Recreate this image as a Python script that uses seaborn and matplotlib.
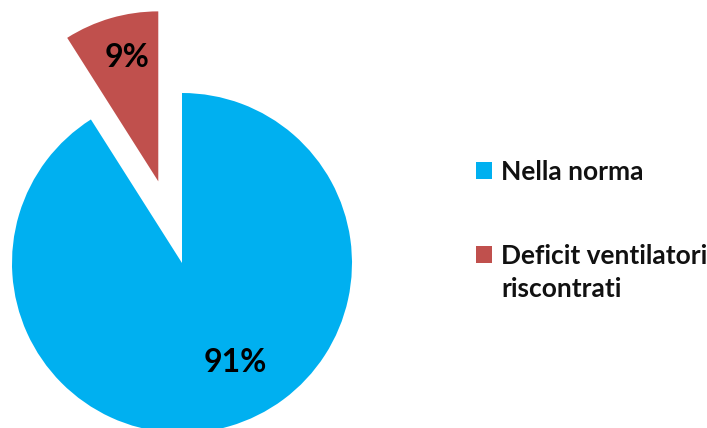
import matplotlib
matplotlib.use("Agg")
import matplotlib.pyplot as plt
import seaborn as sns
from matplotlib.patches import Rectangle
from matplotlib.legend_handler import HandlerPatch

sns.set_theme(style="white")
plt.rcParams['font.family'] = ['Lato', 'DejaVu Sans']

categories = ["Nella norma", "Deficit ventilatori\nriscontrati"]
values = [91, 9]
colors = ["#00B0F0", "#C0504D"]
explode = [0, 0.5]
pct_labels = [f"{v}%" for v in values]

fig = plt.figure(figsize=(7.07, 4.28), dpi=100)
ax = fig.add_axes([0, 0, 1, 1])

R = 170
cx, cy = 182, 165
wedges, _ = ax.pie(values, colors=colors, startangle=90, counterclock=False,
                   explode=[e * R for e in explode], radius=R, center=(cx, cy),
                   wedgeprops=dict(linewidth=0), frame=True)
ax.set_xlim(0, 707)
ax.set_ylim(0, 428)
ax.set_aspect('equal')
ax.axis('off')

# percentage labels
text_pos = [(235, 428 - 363), (127, 428 - 57)]
for (x, y), t in zip(text_pos, pct_labels):
    ax.text(x, y, t, ha='center', va='center', fontsize=23, fontweight='bold', color='black')

FS = 19
LS = 1.45


def make_patch(shift):
    def f(legend, orig_handle, xdescent, ydescent, width, height, fontsize):
        return Rectangle((-xdescent, -ydescent + shift), width, height)
    return f


handler_map = {
    wedges[0]: HandlerPatch(patch_func=make_patch(0)),
    wedges[1]: HandlerPatch(patch_func=make_patch(LS * FS / 2)),
}

leg = ax.legend(wedges, categories, loc='upper left', bbox_to_anchor=(452 / 707, 1 - 136 / 428),
                frameon=False, prop=dict(weight='bold', size=FS),
                handlelength=0.62, handleheight=0.62, handletextpad=0.35, labelspacing=2.3,
                handler_map=handler_map)
for t in leg.get_texts():
    t.set_linespacing(LS)
    t.set_color('#111111')

fig.savefig("out.png", dpi=100)
